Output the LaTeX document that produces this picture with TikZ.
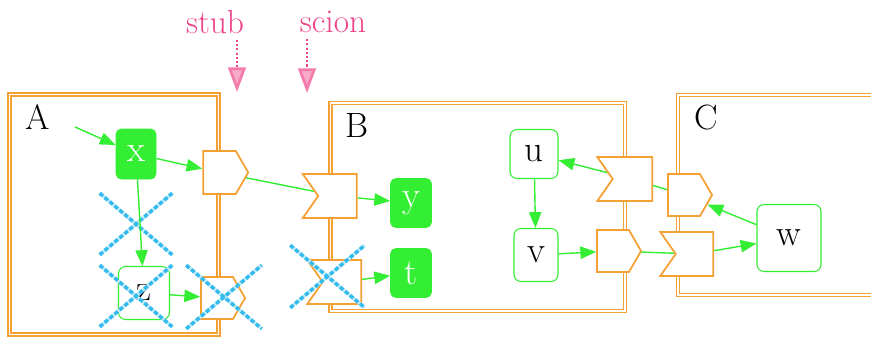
\documentclass[tikz,border=0pt]{standalone}
\usepackage{tikz}
\usetikzlibrary{arrows.meta,positioning,shapes.symbols,shapes.misc}
\definecolor{bright}{HTML}{33EE33}
\definecolor{frame}{HTML}{F5A033}
\definecolor{crossed}{HTML}{33BBEE}
\definecolor{note}{HTML}{EE4488}

\begin{document}
\begin{tikzpicture}[
      cluster/.style={draw=frame, double=white, double distance=1.1pt, line width=0.7pt},
      lbl/.style={font=\fontsize{20}{24}\selectfont},
      full/.style={draw=bright, fill=bright, text=white, rounded corners=3pt,
                   inner sep=0pt, font=\fontsize{21}{24}\selectfont},
      hollow/.style={draw=bright, fill=white, rounded corners=4pt, line width=0.6pt,
                     inner sep=0pt, font=\fontsize{21}{24}\selectfont},
      outport/.style={signal, signal to=east, signal pointer angle=120,
                      draw=frame, fill=white, line width=1pt, inner sep=0pt,
                      minimum width=0.88cm, minimum height=0.84cm},
      inport/.style={signal, signal to=nowhere, signal from=west, signal pointer angle=110,
                     draw=frame, fill=white, line width=1pt, inner sep=0pt,
                     minimum width=1.08cm, minimum height=0.88cm},
      gone/.style={cross out, draw=crossed, line width=2pt, dash pattern=on 2.4pt off 1.3pt,
                   preaction={draw=crossed!30, solid, line width=2pt},
                   inner sep=0pt, minimum width=1.38cm, minimum height=1.16cm},
      arr/.style={-{Triangle[length=9pt, width=7pt]}, draw=bright, line width=0.8pt},
      link/.style={draw=bright, line width=0.8pt},
      pointer/.style={draw=note, line width=1.6pt, dash pattern=on 1.2pt off 1.2pt,
                      -{Triangle[length=14pt, width=10pt, fill=note!45, color=note!70]}},
      remark/.style={text=note, font=\fontsize{19}{22}\selectfont}
  ]
    \useasboundingbox (0,0) rectangle (17.42,6.74);
    \clip (0,0) rectangle (17.42,6.74);

    % --- Clusters ---
    \draw[cluster] (0.19,0.05) rectangle (4.37,4.85);
    \draw[cluster] (6.61,0.52) rectangle (12.50,4.68);
    \draw[cluster] (13.56,0.84) rectangle (17.80,4.84);
    \node[lbl] (labA) at (0.76,4.40) {A};
    \node[lbl] (labB) at (7.14,4.24) {B};
    \node[lbl] (labC) at (14.12,4.40) {C};

    % --- Nodes ---
    \node[full, minimum width=0.80cm, minimum height=1.00cm] (x) at (2.72,3.66) {x};
    \node[hollow, minimum width=1.02cm, minimum height=1.06cm] (z) at (2.88,0.88) {z};
    \node[full, minimum width=0.82cm, minimum height=0.98cm] (y) at (8.22,2.68) {y};
    \node[full, minimum width=0.82cm, minimum height=0.98cm] (t) at (8.22,1.28) {t};
    \node[hollow, minimum width=0.96cm, minimum height=0.98cm] (u) at (10.68,3.66) {u};
    \node[hollow, minimum width=0.88cm, minimum height=1.06cm] (v) at (10.72,1.64) {v};
    \node[hollow, minimum width=1.28cm, minimum height=1.34cm] (w) at (15.78,1.98) {w};

    % --- Ports on the cluster borders ---
    \node[outport, minimum width=0.90cm, minimum height=0.86cm] (pA) at (4.39,3.29) {};
    \node[outport] (pAz) at (4.34,0.78) {};
    \node[inport] (sB) at (6.75,2.82) {};
    \node[inport] (sBt) at (6.84,1.10) {};
    \node[inport, minimum width=1.10cm] (sBu) at (12.65,3.16) {};
    \node[outport] (pBv) at (12.26,1.72) {};
    \node[outport] (pC) at (13.68,2.84) {};
    \node[inport, minimum width=1.06cm] (sC) at (13.89,1.66) {};

    % removed parts
    \node[gone] (c1) at (2.72,2.26) {};
    \node[gone] (c2) at (2.72,0.82) {};
    \node[gone, minimum width=1.44cm, minimum height=1.20cm] (c3) at (4.48,0.80) {};
    \node[gone, minimum width=1.42cm, minimum height=1.18cm] (c4) at (6.55,1.21) {};

    % --- Edges ---
    \coordinate (src) at (1.50,4.20);
    \draw[arr] (src) -- (x);
    \draw[arr] (x) -- (pA);
    \draw[link] (pA) -- (sB);
    \draw[arr] (sB) -- (y);
    \draw[arr] (x) -- (z);
    \draw[arr] (z) -- (pAz);
    \draw[arr] (sBt) -- (t);
    \draw[arr] (u) -- (v);
    \draw[arr] (v) -- (pBv);
    \draw[link] (pBv) -- (sC);
    \draw[arr] (sC) -- (w);
    \draw[arr] (w) -- (pC);
    \draw[link] (pC) -- (sBu);
    \draw[arr] (sBu) -- (u);

    % --- Annotations ---
    \node[remark] (stub) at (4.30,6.30) {stub};
    \node[remark] (scion) at (6.66,6.30) {scion};
    \coordinate (stubend) at (4.74,4.90);
    \coordinate (scionend) at (6.14,4.88);
    \draw[pointer] (stub.south -| stubend) -- (stubend);
    \draw[pointer] (scion.south -| scionend) -- (scionend);

  \end{tikzpicture}
\end{document}
